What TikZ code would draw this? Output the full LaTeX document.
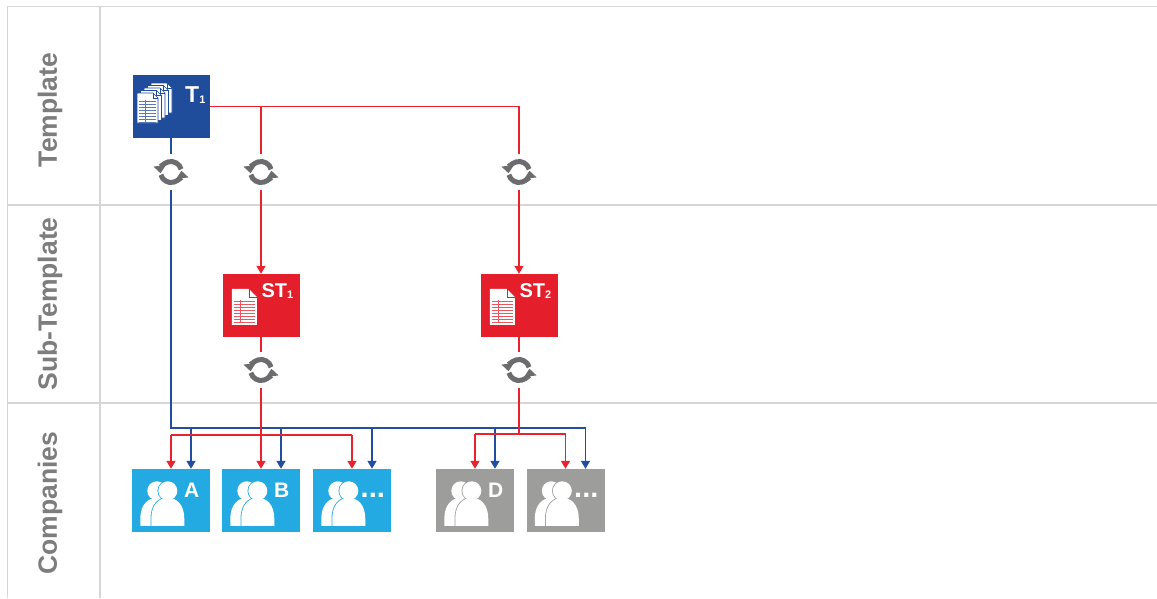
\documentclass[tikz,border=0pt]{standalone}
\usepackage{fontspec}
\setmainfont{Liberation Sans}
\usetikzlibrary{arrows.meta,calc}
\definecolor{tblue}{RGB}{31,76,155}
\definecolor{tred}{RGB}{228,30,42}
\definecolor{cblue}{RGB}{36,170,226}
\definecolor{cgray}{RGB}{157,157,156}
\definecolor{sgray}{RGB}{108,108,110}
\definecolor{gridc}{RGB}{214,214,214}
\definecolor{labc}{RGB}{125,125,125}
\definecolor{lblue}{RGB}{33,78,160}
\definecolor{lred}{RGB}{232,35,45}
\begin{document}
\begin{tikzpicture}[x=1pt,y=-1pt,
  gridline/.style={draw=gridc, line width=1.3pt},
  lanelabel/.style={rotate=90, text=labc, inner sep=0pt, font=\fontsize{26.5}{26.5}\selectfont\bfseries},
  boxbase/.style={rectangle, inner sep=0pt, minimum width=77pt, minimum height=63pt},
  tbox/.style={boxbase, fill=tblue},
  stbox/.style={boxbase, fill=tred},
  combox/.style={boxbase, minimum width=78pt, fill=#1},
  tiptri/.tip={Triangle[width=9pt,length=8pt]},
  redline/.style={draw=lred, line width=1.5pt},
  blueline/.style={draw=lblue, line width=1.5pt},
  boxtitle/.style={anchor=base west, text=white, inner sep=0pt, font=\fontsize{#1}{#1}\selectfont\bfseries},
  comletter/.style={anchor=base, text=white, inner sep=0pt, font=\fontsize{21}{21}\selectfont\bfseries},
  comdots/.style={anchor=base, text=white, inner sep=0pt, font=\fontsize{29}{29}\selectfont\bfseries},
  syncicon/.pic={
    \fill[white] (0,0) circle[radius=18];
    \begin{scope}[yscale=-1]
      \draw[sgray,line width=5pt,-{Triangle[width=12pt,length=7.5pt]}] (15:10.5) arc[start angle=15,end angle=187,radius=10.5];
      \draw[sgray,line width=5pt,-{Triangle[width=12pt,length=7.5pt]}] (195:10.5) arc[start angle=195,end angle=367,radius=10.5];
    \end{scope}
  },
  stpage/.pic={
    \fill[white] (0,36) -- (0,0) -- (17,0) -- (25,8) -- (25,36) -- cycle;
    \draw[tred, line width=0.6pt] (17,0) -- (17,8) -- (25,8);
    \foreach \yy in {12,15,...,33} \draw[tred!75, line width=0.6pt] (2,\yy) -- (23,\yy);
    \draw[tred!75, line width=0.6pt] (8,11) -- (8,34);
  },
  persons/.pic={
    \foreach \cx in {25,36} {
      \path[draw=#1, line width=1.6pt] (\cx-16.5,57) -- (\cx-16.5,50) .. controls (\cx-16.5,36) and (\cx-9,29) .. (\cx,29) .. controls (\cx+9,29) and (\cx+16.5,36) .. (\cx+16.5,50) -- (\cx+16.5,57) -- cycle;
      \path[draw=#1, line width=1.6pt] (\cx,22) circle[radius=9.5];
      \fill[white] (\cx-16.5,57) -- (\cx-16.5,50) .. controls (\cx-16.5,36) and (\cx-9,29) .. (\cx,29) .. controls (\cx+9,29) and (\cx+16.5,36) .. (\cx+16.5,50) -- (\cx+16.5,57) -- cycle;
      \fill[white] (\cx,22) circle[radius=9.5];
    }
  }
]
\useasboundingbox (0,0) rectangle (1157,598);

% lane grid
\draw[gridline, line width=1.6pt] (7,6.5) -- (1157,6.5);
\draw[gridline] (7,205) -- (1157,205);
\draw[gridline] (7,403) -- (1157,403);
\draw[gridline] (7.5,6.5) -- (7.5,598);
\draw[gridline] (100,6.5) -- (100,598);

% lane labels
\node[lanelabel] (lt) at (50,110) {Template};
\node[lanelabel] (ls) at (50,304) {Sub-Template};
\node[lanelabel] (lc) at (50,503) {Companies};

% boxes
\node[tbox] (T1) at (171,106.5) {};
\node[stbox] (ST1) at (261,305.5) {};
\node[stbox] (ST2) at (519,305.5) {};
\node[combox=cblue] (cA) at (171,500.5) {};
\node[combox=cblue] (cB) at (261,500.5) {};
\node[combox=cblue] (cC) at (352,500.5) {};
\node[combox=cgray] (cD) at (475,500.5) {};
\node[combox=cgray] (cE) at (565.5,500.5) {};

% helper coordinates
\coordinate (bbus) at (0,428);
\coordinate (rbus1) at (0,435);
\coordinate (rbus2) at (0,434);
\foreach \c in {A,B,C,D,E} {\coordinate (b\c) at ([xshift=20pt]c\c.north);}
\coordinate (sy1) at (171,172);
\coordinate (sy2) at (261,172);
\coordinate (sy3) at (519,172);
\coordinate (sy4) at (261,370);
\coordinate (sy5) at (519,370);

% blue connectors
\draw[blueline] (T1.south) -- (T1.south |- bbus) -- (bE |- bbus);
\foreach \c in {A,B,C,D,E} {\draw[blueline,-tiptri] (b\c |- bbus) -- (b\c);}

% red connectors
\draw[redline,-tiptri] (T1.east) -| (ST2.north);
\draw[redline,-tiptri] (T1.east -| ST1.north) -- (ST1.north);
\draw[redline,-tiptri] (ST1.south) -- (cB.north);
\draw[redline] (cA.north |- rbus1) -- (cC.north |- rbus1);
\draw[redline,-tiptri] (cA.north |- rbus1) -- (cA.north);
\draw[redline,-tiptri] (cC.north |- rbus1) -- (cC.north);
\draw[redline] (ST2.south) -- (ST2.south |- rbus2);
\draw[redline] (cD.north |- rbus2) -- (cE.north |- rbus2);
\draw[redline,-tiptri] (cD.north |- rbus2) -- (cD.north);
\draw[redline,-tiptri] (cE.north |- rbus2) -- (cE.north);

% sync icons
\foreach \s in {sy1,sy2,sy3,sy4,sy5} {\pic at (\s) {syncicon};}

% T1 document stack
\foreach \k in {4,3,2,1,0} {
  \pgfmathsetmacro\px{137+3.5*\k}
  \pgfmathsetmacro\py{93-2.5*\k}
  \filldraw[fill=white, draw=tblue, line width=0.7pt] (\px,\py+30) -- (\px,\py) -- (\px+16,\py) -- (\px+21,\py+5) -- (\px+21,\py+30) -- cycle;
  \draw[tblue, line width=0.6pt] (\px+16,\py) -- (\px+16,\py+5) -- (\px+21,\py+5);
}
\foreach \yy in {101,104,...,122} {\draw[tblue!75, line width=0.5pt] (139,\yy) -- (156,\yy);}
\draw[tblue!75, line width=0.5pt] (145,100) -- (145,122);
\node[boxtitle=23] (t1t) at (185,102) {T\raisebox{-1pt}{\fontsize{11}{11}\selectfont 1}};

% ST pages and titles
\pic at ($(ST1.north west)+(9.5,15)$) {stpage};
\pic at ($(ST2.north west)+(9.5,15)$) {stpage};
\node[boxtitle=20] (st1t) at ($(ST1.north west)+(39,24)$) {ST\raisebox{-1pt}{\fontsize{11}{11}\selectfont 1}};
\node[boxtitle=20] (st2t) at ($(ST2.north west)+(39,24)$) {ST\raisebox{-1pt}{\fontsize{11}{11}\selectfont 2}};

% company persons and letters
\pic at (cA.north west) {persons=cblue};
\pic at (cB.north west) {persons=cblue};
\pic at (cC.north west) {persons=cblue};
\pic at (cD.north west) {persons=cgray};
\pic at (cE.north west) {persons=cgray};
\node[comletter] (lA) at ($(cA.north west)+(60,29)$) {A};
\node[comletter] (lB) at ($(cB.north west)+(60,29)$) {B};
\node[comdots] (lC) at ($(cC.north west)+(60,29)$) {...};
\node[comletter] (lD) at ($(cD.north west)+(60,29)$) {D};
\node[comdots] (lE) at ($(cE.north west)+(60,29)$) {...};
\end{tikzpicture}
\end{document}
